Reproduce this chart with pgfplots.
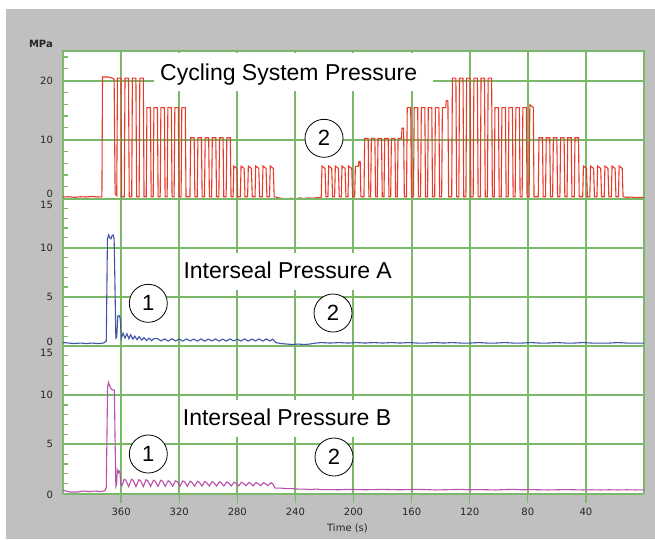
\documentclass[border=0pt]{standalone}
\usepackage{pgfplots}
\pgfplotsset{compat=1.18}
\usepackage{fontspec}
\setmainfont{DejaVu Sans}
\newfontfamily\annfont{Liberation Sans}
\definecolor{bggray}{RGB}{192,192,192}
\definecolor{gridgreen}{RGB}{122,184,106}
\definecolor{sysred}{RGB}{232,58,40}
\definecolor{sealblue}{RGB}{64,84,168}
\definecolor{sealmag}{RGB}{186,80,170}
\pgfplotsset{panel/.style={
  scale only axis, width=581pt, height=147.5pt,
  xmin=0, xmax=400, x dir=reverse,
  xtick={40,80,...,360},
  grid=major, grid style={gridgreen, line width=2pt},
  major grid style={gridgreen, line width=2pt},
  axis line style={gridgreen, line width=1.8pt},
  tick style={gridgreen, line width=1.2pt},
  tick pos=left,
  ytick align=inside,
  minor tick length=5pt,
  axis background/.style={fill=white},
  ticklabel style={font=\fontsize{10}{12}\selectfont, text=black!85},
  yticklabel style={xshift=-6.5pt},
}}
\begin{document}
\begin{tikzpicture}
\fill[white] (0,0) rectangle (655pt,-539pt);
\fill[bggray] (6pt,-9pt) rectangle (655pt,-539pt);
\path[use as bounding box] (0,0) rectangle (655pt,-539pt);

% Panel 1: Cycling system pressure
\begin{axis}[panel, at={(63pt,-51pt)}, anchor=north west,
  ymin=0, ymax=25, ytick={0,10,20},
  minor ytick={2,4,6,8,12,14,16,18,22,24},
  yticklabels={{\raisebox{4.7pt}[\height][\depth]{0}},10,20},
  xtick align=inside, xticklabels={}]
\addplot[sysred, line width=1.1pt] coordinates {
(400,0.25)(396,0.3)(392,0.2)(388,0.3)(384,0.25)(380,0.35)(376,0.25)(373.2,0.3)
(372.8,20.6)(369,20.6)(366,20.4)(364.8,20.2)(364.1,0.8)
(363.0,0.5)(362.5,20.4)(360.1,20.4)(359.6,0.3)
(357.8,0.3)(357.3,20.4)(354.9,20.4)(354.4,0.3)
(352.7,0.3)(352.2,20.4)(349.8,20.4)(349.3,0.3)
(347.6,0.3)(347.1,20.4)(344.7,20.4)(344.2,0.3)
(342.7,0.3)(342.2,15.4)(339.8,15.4)(339.3,0.3)
(337.9,0.3)(337.4,15.4)(335.0,15.4)(334.5,0.3)
(333.1,0.3)(332.6,15.4)(330.2,15.4)(329.7,0.3)
(328.3,0.3)(327.8,15.4)(325.4,15.4)(324.9,0.3)
(323.5,0.3)(323.0,15.4)(320.6,15.4)(320.1,0.3)
(318.7,0.3)(318.2,15.4)(315.8,15.4)(315.3,0.3)
(312.6,0.3)(312.1,10.3)(309.7,10.3)(309.2,0.3)
(307.6,0.3)(307.1,10.3)(304.7,10.3)(304.2,0.3)
(302.6,0.3)(302.1,10.3)(299.7,10.3)(299.2,0.3)
(297.7,0.3)(297.2,10.3)(294.8,10.3)(294.3,0.3)
(292.7,0.3)(292.2,10.3)(289.8,10.3)(289.3,0.3)
(287.7,0.3)(287.2,10.3)(284.8,10.3)(284.3,0.3)
(282.9,0.3)(282.4,5.5)(280.3,5.1)(279.7,0.3)
(277.9,0.3)(277.4,5.5)(275.3,5.1)(274.7,0.3)
(272.9,0.3)(272.4,5.5)(270.3,5.1)(269.7,0.3)
(267.8,0.3)(267.3,5.5)(265.2,5.1)(264.6,0.3)
(262.8,0.3)(262.3,5.5)(260.2,5.1)(259.6,0.3)
(257.8,0.3)(257.3,5.5)(255.2,5.1)(254.6,0.3)
(252,0.15)(249,0.0)(246,-0.1)(243,0.05)(240,-0.05)(237,0.1)(234,0.0)(231,0.1)(228,0.05)(225,0.15)(222.4,0.2)
(222.2,0.3)(221.7,5.5)(219.6,5.1)(219.0,0.3)
(217.6,0.3)(217.1,5.5)(215.0,5.1)(214.4,0.3)
(213.0,0.3)(212.5,5.5)(210.4,5.1)(209.8,0.3)
(208.4,0.3)(207.9,5.5)(205.8,5.1)(205.2,0.3)
(203.8,0.3)(203.3,5.5)(201.2,5.1)(200.6,0.3)
(199.2,0.3)(198.7,5.4)(196.6,5.5)(196.3,6.3)(195.4,6.3)(194.9,0.3)
(192.8,0.3)(192.3,10.2)(189.9,10.2)(189.4,0.3)
(188.2,0.3)(187.7,10.2)(185.3,10.2)(184.8,0.3)
(183.6,0.3)(183.1,10.2)(180.7,10.2)(180.2,0.3)
(179.0,0.3)(178.5,10.2)(176.1,10.2)(175.6,0.3)
(174.4,0.3)(173.9,10.2)(171.5,10.2)(171.0,0.3)
(169.8,0.3)(169.3,10.2)(167.0,10.2)(166.6,11.9)(165.5,11.9)(165.0,0.3)
(163.5,0.3)(163.0,15.4)(160.6,15.4)(160.1,0.3)
(158.7,0.3)(158.2,15.4)(155.8,15.4)(155.3,0.3)
(153.8,0.3)(153.3,15.4)(150.9,15.4)(150.4,0.3)
(149.0,0.3)(148.5,15.4)(146.1,15.4)(145.6,0.3)
(144.1,0.3)(143.6,15.4)(141.2,15.4)(140.7,0.3)
(139.3,0.3)(138.8,15.4)(136.5,15.4)(136.1,16.6)(135.0,16.6)(134.5,0.3)
(132.4,0.3)(131.9,20.4)(129.5,20.4)(129.0,0.3)
(127.5,0.3)(127.0,20.4)(124.6,20.4)(124.1,0.3)
(122.6,0.3)(122.1,20.4)(119.7,20.4)(119.2,0.3)
(117.6,0.3)(117.1,20.4)(114.7,20.4)(114.2,0.3)
(112.7,0.3)(112.2,20.4)(109.8,20.4)(109.3,0.3)
(107.8,0.3)(107.3,20.4)(104.9,20.4)(104.4,0.3)
(103.1,0.3)(102.6,15.4)(100.2,15.4)(99.7,0.3)
(98.3,0.3)(97.8,15.4)(95.4,15.4)(94.9,0.3)
(93.5,0.3)(93.0,15.4)(90.6,15.4)(90.1,0.3)
(88.7,0.3)(88.2,15.4)(85.8,15.4)(85.3,0.3)
(83.9,0.3)(83.4,15.4)(81.0,15.4)(80.5,0.3)
(79.1,0.3)(78.6,15.9)(76.2,15.4)(75.7,0.3)
(72.8,0.3)(72.3,10.3)(69.9,10.3)(69.4,0.3)
(67.8,0.3)(67.3,10.3)(64.9,10.3)(64.4,0.3)
(62.9,0.3)(62.4,10.3)(60.0,10.3)(59.5,0.3)
(57.9,0.3)(57.4,10.3)(55.0,10.3)(54.5,0.3)
(53.0,0.3)(52.5,10.3)(50.1,10.3)(49.6,0.3)
(48.0,0.3)(47.5,10.3)(45.1,10.3)(44.6,0.3)
(42.2,0.3)(41.7,5.5)(39.6,5.1)(39.0,0.3)
(37.3,0.3)(36.8,5.5)(34.7,5.1)(34.1,0.3)
(32.4,0.3)(31.9,5.5)(29.8,5.1)(29.2,0.3)
(27.4,0.3)(26.9,5.5)(24.8,5.1)(24.2,0.3)
(22.5,0.3)(22.0,5.5)(19.9,5.1)(19.3,0.3)
(17.6,0.3)(17.1,5.5)(15.0,5.1)(14.4,0.3)
(12,0.2)(9,0.25)(6,0.15)(3,0.2)(0,0.2)
};
\end{axis}

% Panel 2: Interseal pressure A
\begin{axis}[panel, at={(63pt,-198.5pt)}, anchor=north west,
  ymin=0, ymax=15, ytick={0,5,10,15},
  minor ytick={1,2,3,4,6,7,8,9,11,12,13,14},
  yticklabels={{\raisebox{4pt}[\height][\depth]{0}},5,10,{\raisebox{-6.5pt}[\height][\depth]{15}}},
  xtick align=inside, xticklabels={}]
\addplot[sealblue, line width=1.1pt] coordinates {
(400,0.35)(396,0.3)(392,0.25)(388,0.3)(384,0.25)(380,0.3)(376,0.25)(372,0.3)(370.2,0.5)
(369.4,10.9)(368.6,11.3)(367.8,11.0)(367.0,10.9)(366.3,11.2)(365.5,11.3)(364.8,10.9)(364.2,6.0)(363.6,0.8)
(363.0,0.9)(362.3,3.0)(361.6,3.1)(360.9,3.0)(360.5,2.6)(359.8,0.8)
(358.6,1.3)(357.3,0.8)(356.0,1.25)(354.6,0.75)(353.4,1.15)(351.9,0.7)(350.6,1.0)(349.0,0.65)(347.6,0.95)(345.8,0.6)(344.2,0.85)(342.4,0.55)(340.8,0.8)(339.0,0.55)(337.4,0.75)
(335.0,0.75)(332.5,0.52)(330.0,0.72)(327.5,0.5)(325.0,0.74)(322.5,0.52)(320.0,0.7)(317.5,0.5)(315.0,0.72)(312.5,0.52)(310.0,0.7)(307.5,0.5)(305.0,0.72)(302.5,0.5)(300.0,0.7)(297.5,0.52)(295.0,0.72)(292.5,0.5)(290.0,0.7)(287.5,0.5)(285.0,0.72)(282.5,0.52)(280.0,0.7)(277.5,0.5)(275.0,0.72)(272.5,0.5)(270.0,0.7)(267.5,0.52)(265.0,0.72)(262.5,0.5)(260.0,0.72)(257.5,0.52)(255.5,0.7)(253.5,0.35)
(250,0.25)(246,0.2)(242,0.15)(238,0.2)(234,0.15)(230,0.2)(226,0.3)(222,0.35)(216,0.3)(210,0.35)(204,0.3)(198,0.35)(192,0.3)(186,0.35)(180,0.3)(174,0.35)(168,0.3)(162,0.35)(156,0.3)(150,0.3)(144,0.35)(138,0.3)(132,0.35)(126,0.3)(120,0.3)(114,0.35)(108,0.3)(102,0.3)(96,0.35)(90,0.3)(84,0.3)(78,0.35)(72,0.3)(66,0.3)(60,0.35)(54,0.3)(48,0.3)(42,0.35)(36,0.3)(30,0.3)(24,0.3)(18,0.35)(12,0.3)(6,0.3)(0,0.3)
};
\end{axis}

% Panel 3: Interseal pressure B
\begin{axis}[panel, at={(63pt,-346pt)}, anchor=north west,
  ymin=0, ymax=15, ytick={0,5,10,15},
  minor ytick={1,2,3,4,6,7,8,9,11,12,13,14},
  yticklabels={{\raisebox{-1.5pt}[\height][\depth]{0}},5,10,{\raisebox{-7pt}[\height][\depth]{15}}},
  xtick align=outside, major tick length=9pt,
  xticklabels={40,80,120,160,200,240,280,320,360},
  xticklabel style={yshift=-2pt},
  xlabel={Time (s)},
  xlabel style={font=\fontsize{10}{12}\selectfont, text=black!85, at={(axis description cs:0.4897,0)}, anchor=base, yshift=-37.5pt}]
\addplot[sealmag, line width=1.1pt] coordinates {
(400,0.35)(398,0.25)(395,0.15)(390,0.15)(386,0.25)(382,0.2)(378,0.25)(374,0.2)(371,0.3)(370.2,0.6)
(369.3,10.8)(368.7,11.3)(367.8,10.9)(366.6,10.6)(364.6,10.5)(364.2,6)(363.6,0.7)
(363.1,0.9)(362.6,2.4)(361.9,2.1)(361.3,2.3)(360.8,2.2)(360.2,0.9)(359.4,0.8)
(357.9,1.45)(356.7,1.35)(354.8,0.7)
(352.9,1.45)(351.7,1.35)(349.8,0.7)
(347.8,1.4)(346.6,1.3)(344.7,0.7)
(342.8,1.4)(341.6,1.3)(339.7,0.72)
(337.7,1.35)(336.5,1.25)(334.6,0.72)
(332.7,1.35)(331.5,1.25)(329.6,0.72)
(327.6,1.3)(326.4,1.2)(324.5,0.74)
(322.6,1.3)(321.4,1.2)(319.5,0.74)
(317.5,1.28)(316.3,1.18)(314.4,0.74)
(312.5,1.25)(311.3,1.15)(309.4,0.75)
(307.4,1.25)(306.2,1.15)(304.3,0.75)
(302.4,1.22)(301.2,1.12)(299.3,0.76)
(297.3,1.2)(296.1,1.1)(294.2,0.76)
(292.3,1.2)(291.1,1.1)(289.2,0.77)
(287.2,1.18)(286.0,1.08)(284.1,0.77)
(282.2,1.15)(281.0,1.05)(279.1,0.78)
(277.1,1.15)(275.9,1.05)(274.0,0.78)
(272.1,1.12)(270.9,1.02)(269.0,0.78)
(267.0,1.12)(265.8,1.02)(263.9,0.8)
(262.0,1.1)(260.8,1.0)(258.9,0.8)
(256.9,1.1)(255.7,1.0)(254.0,0.55)
(250,0.55)(246,0.5)(242,0.5)(238,0.45)(234,0.45)(230,0.4)(226,0.45)(222,0.4)(216,0.4)(210,0.38)(204,0.42)(198,0.4)(192,0.38)(186,0.4)(180,0.42)(174,0.4)(168,0.38)(162,0.4)(156,0.42)(150,0.4)(144,0.36)(138,0.38)(132,0.4)(126,0.42)(120,0.38)(114,0.4)(108,0.38)(102,0.36)(96,0.4)(90,0.42)(84,0.38)(78,0.4)(72,0.38)(66,0.36)(60,0.38)(54,0.4)(48,0.38)(42,0.36)(36,0.38)(30,0.36)(24,0.38)(18,0.36)(12,0.38)(6,0.36)(0,0.38)
};
\end{axis}

% annotations
\node[anchor=base east, inner sep=0, font=\fontsize{10}{12}\selectfont\bfseries, text=black!85] at (53pt,-47pt) {MPa};
\fill[white] (154pt,-53pt) rectangle (433pt,-91pt);
\node[anchor=base west, inner sep=0, font=\annfont\fontsize{23}{26}\selectfont] at (160pt,-80pt) {Cycling System Pressure};
\fill[white] (181pt,-253pt) rectangle (400pt,-290pt);
\node[anchor=base west, inner sep=0, font=\annfont\fontsize{23}{26}\selectfont] at (183.3pt,-278.3pt) {Interseal Pressure A};
\fill[white] (181pt,-400pt) rectangle (400pt,-437pt);
\node[anchor=base west, inner sep=0, font=\annfont\fontsize{23}{26}\selectfont] at (182.7pt,-425pt) {Interseal Pressure B};
\tikzset{num/.style={circle, draw=black, line width=0.8pt, fill=white, minimum size=38pt, inner sep=0pt, font=\annfont\fontsize{22}{24}\selectfont}}
\node[num] at (324pt,-138.3pt) {2};
\node[num] at (148.3pt,-303.3pt) {1};
\node[num] at (333pt,-313pt) {2};
\node[num] at (148.3pt,-454pt) {1};
\node[num] at (334pt,-457pt) {2};
\end{tikzpicture}
\end{document}
